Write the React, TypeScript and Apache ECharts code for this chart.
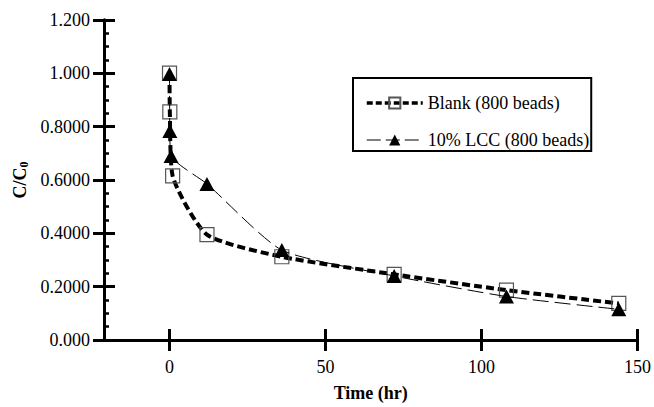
import React, { useEffect, useRef } from "react";
import * as echarts from "echarts";

const blankX = [0, 0.1, 1, 12, 36, 72, 108, 144];
const blankY = [1.0, 0.855, 0.615, 0.395, 0.312, 0.246, 0.187, 0.137];
const lccX = [0, 0.1, 0.5, 12, 36, 72, 108, 144];
const lccY = [0.997, 0.783, 0.69, 0.585, 0.337, 0.24, 0.163, 0.115];
const xTicks = [0, 50, 100, 150];
const yTickLabels = ["0.000", "0.2000", "0.4000", "0.6000", "0.8000", "1.000", "1.200"];
const seriesNames = ["Blank (800 beads)", "10% LCC (800 beads)"];

const FONT = "Liberation Serif";

export default function App() {
  const ref = useRef<HTMLDivElement>(null);
  useEffect(() => {
    if (!ref.current) return;
    const chart = echarts.init(ref.current, undefined, { renderer: "svg" });
    const blankData = blankX.map((x, i) => [x, blankY[i]]);
    const lccData = lccX.map((x, i) => [x, lccY[i]]);
    const axisLine = { show: true, onZero: false, lineStyle: { color: "#000", width: 3 } };
    const labelStyle = { fontFamily: FONT, fontSize: 18, color: "#000", fontWeight: "normal" };
    chart.setOption({
      animation: false,
      backgroundColor: "#fff",
      textStyle: { fontFamily: FONT },
      grid: { left: 104, right: 14, top: 19.8, bottom: 65 },
      legend: {
        orient: "vertical",
        left: 353,
        top: 78,
        padding: [16, 2, 2, 12],
        itemGap: 19,
        itemWidth: 56,
        itemHeight: 14,
        borderColor: "#000",
        borderWidth: 2,
        backgroundColor: "#fff",
        textStyle: { ...labelStyle },
        data: [
          { name: seriesNames[0], lineStyle: { width: 3.5, type: [6, 3] } },
          { name: seriesNames[1], lineStyle: { width: 1.2, type: [14, 5] } },
        ],
      },
      xAxis: [
        {
          type: "value",
          min: -21,
          max: 150,
          position: "bottom",
          axisLine,
          splitLine: { show: false },
          axisTick: { show: true, customValues: xTicks, length: 11, lineStyle: { width: 3, color: "#000" } },
          axisLabel: { ...labelStyle, customValues: xTicks, margin: 18 },
          name: "Time (hr)",
          nameLocation: "middle",
          nameGap: 44,
          nameTextStyle: { fontFamily: FONT, fontSize: 18, fontWeight: "bold", color: "#000" },
        },
        {
          type: "value",
          min: -21,
          max: 150,
          position: "bottom",
          axisLine: { show: false, onZero: false },
          splitLine: { show: false },
          axisTick: { show: true, inside: true, customValues: xTicks, length: 11, lineStyle: { width: 3, color: "#000" } },
          axisLabel: { show: false },
        },
      ],
      yAxis: [
        {
          type: "value",
          min: 0,
          max: 1.2,
          interval: 0.2,
          position: "left",
          axisLine,
          splitLine: { show: false },
          axisTick: { show: true, length: 11, lineStyle: { width: 3, color: "#000" } },
          axisLabel: {
            ...labelStyle,
            margin: 14,
            formatter: (v: number) => yTickLabels[Math.round(v / 0.2)] ?? "",
          },
          name: "C/C{sub|0}",
          nameLocation: "middle",
          nameGap: 62,
          nameRotate: 90,
          nameTextStyle: {
            fontFamily: FONT,
            fontSize: 18,
            fontWeight: "bold",
            color: "#000",
            rich: { sub: { fontFamily: FONT, fontSize: 12, fontWeight: "bold", color: "#000", verticalAlign: "bottom", padding: [8, 0, 0, 0] } },
          },
        },
        {
          type: "value",
          min: 0,
          max: 1.2,
          interval: 0.2,
          position: "left",
          axisLine: { show: false, onZero: false },
          splitLine: { show: false },
          axisTick: { show: true, inside: true, length: 11, lineStyle: { width: 3, color: "#000" } },
          minorTick: { show: true, splitNumber: 4, length: 5, lineStyle: { width: 2.5, color: "#000" } },
          axisLabel: { show: false },
        },
      ],
      series: [
        {
          name: seriesNames[0],
          type: "line",
          data: blankData,
          smooth: 0.2,
          symbol: "rect",
          symbolSize: 14,
          lineStyle: { color: "#000", width: 4, type: [8, 4] },
          itemStyle: { color: "rgba(255,255,255,0)", borderColor: "#555", borderWidth: 1.2 },
          z: 2,
        },
        {
          name: seriesNames[1],
          type: "line",
          data: lccData,
          smooth: 0.2,
          symbol: "triangle",
          symbolSize: [15, 14],
          lineStyle: { color: "#000", width: 1, type: [16, 6] },
          itemStyle: { color: "#000", borderColor: "#000", borderWidth: 0 },
          z: 3,
        },
      ],
    });
    return () => chart.dispose();
  }, []);
  return <div ref={ref} style={{ position: "fixed", left: 0, top: 0, width: 654, height: 407 }} />;
}
